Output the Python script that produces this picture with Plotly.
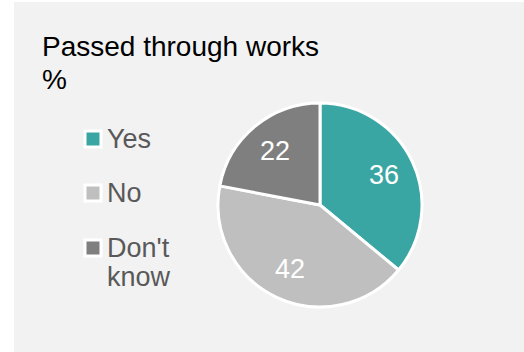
import math
import plotly.graph_objects as go

labels = ["Yes", "No", "Don't know"]
values = [36, 42, 22]
colors = ["#3aa6a4", "#bfbfbf", "#7f7f7f"]
title_lines = ["Passed through works", "%"]

W, H = 524, 352
FONT = "Arial, Liberation Sans, sans-serif"

def px(x):
    return x / W

def py(y):
    return 1 - y / H

# pie geometry (pixels)
CX, CY, R = 320, 205, 102

fig = go.Figure()
fig.add_trace(go.Pie(
    labels=labels,
    values=values,
    sort=False,
    direction="clockwise",
    rotation=0,
    marker=dict(colors=colors, line=dict(color="white", width=3)),
    textinfo="none",
    domain=dict(x=[px(CX - R), px(CX + R)], y=[py(CY + R), py(CY - R)]),
    showlegend=False,
    hoverinfo="label+value",
))

shapes = [dict(type="rect", xref="paper", yref="paper",
               x0=px(14), x1=px(524), y0=py(352), y1=py(2),
               fillcolor="#f2f2f2", line=dict(width=0), layer="below")]
annotations = []

# slice value labels placed at mid-angle of each slice
total = sum(values)
cum = 0
for v in values:
    mid = (cum + v / 2) / total * 2 * math.pi
    cum += v
    r = 0.69 * R
    x = CX + r * math.sin(mid)
    y = CY - r * math.cos(mid)
    annotations.append(dict(text=str(v), x=px(x), y=py(y), xref="paper", yref="paper",
                            xanchor="center", yanchor="middle", showarrow=False,
                            font=dict(family=FONT, size=27, color="white")))

# title
title_tops = [29, 62]
for t, top in zip(title_lines, title_tops):
    annotations.append(dict(text=t, x=px(40), y=py(top), xref="paper", yref="paper",
                            xanchor="left", yanchor="top", showarrow=False, align="left",
                            font=dict(family=FONT, size=28, color="#000000")))

# custom legend
centers = [139, 193, 248]
for lab, col, cy in zip(labels, colors, centers):
    shapes.append(dict(type="rect", xref="paper", yref="paper",
                       x0=px(85), x1=px(101), y0=py(cy + 8), y1=py(cy - 8),
                       fillcolor=col, line=dict(color="white", width=3)))
    lines = lab.split(" ") if lab == "Don't know" else [lab]
    for i, ln in enumerate(lines):
        annotations.append(dict(text=ln, x=px(105), y=py(cy + i * 29), xref="paper", yref="paper",
                                xanchor="left", yanchor="middle", showarrow=False, align="left",
                                font=dict(family=FONT, size=27, color="#595959")))

fig.update_layout(
    width=W, height=H,
    margin=dict(l=0, r=0, t=0, b=0),
    paper_bgcolor="white",
    plot_bgcolor="white",
    shapes=shapes,
    annotations=annotations,
    showlegend=False,
)

fig.write_html("out.html")
